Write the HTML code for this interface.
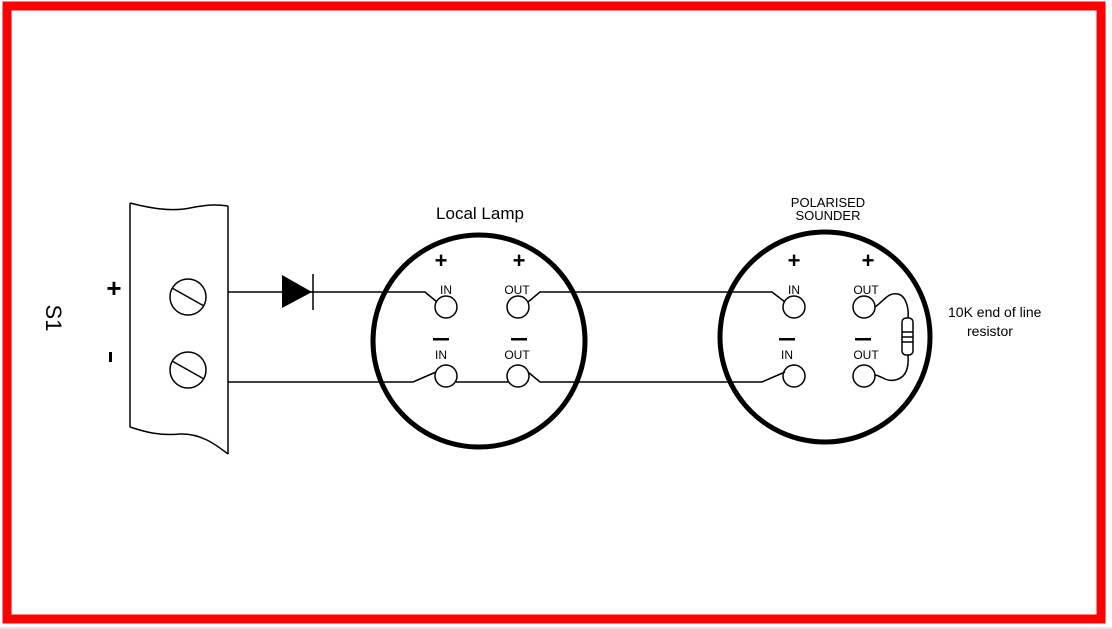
<!DOCTYPE html>
<html><head><style>
html,body{margin:0;padding:0;background:#fff;}
svg{display:block;}
text{font-family:"Liberation Sans",Arial,sans-serif;fill:#000;}
</style></head><body>
<svg width="1112" height="629" viewBox="0 0 1112 629" xmlns="http://www.w3.org/2000/svg">
<rect x="0" y="0" width="1112" height="629" fill="#fff"/>
<rect x="7" y="6" width="1094" height="613" fill="none" stroke="#ff0000" stroke-width="9"/>
<line x1="0" y1="628" x2="1112" y2="628" stroke="#ccc" stroke-width="1"/>

<!-- panel -->
<g fill="none" stroke="#000" stroke-width="1.5">
<path d="M130,203 C150,208 170,212 190,208 C205,205 215,204 228,206"/>
<line x1="130" y1="203" x2="130" y2="427"/>
<line x1="228" y1="206" x2="228" y2="454"/>
<path d="M130,427 C145,432 160,436 180,434 C200,433 215,444 228,454"/>
<circle cx="188" cy="297" r="18"/>
<line x1="172" y1="288" x2="204" y2="306"/>
<circle cx="188" cy="370" r="18"/>
<line x1="172" y1="361" x2="204" y2="379"/>
</g>
<text x="114" y="297" font-size="26" font-weight="bold" text-anchor="middle">+</text>
<rect x="109" y="352" width="3" height="10" fill="#000"/>
<text x="0" y="0" font-size="22" text-anchor="middle" transform="translate(46,318) rotate(90)">S1</text>

<!-- wires -->
<g fill="none" stroke="#000" stroke-width="1.5">
<polyline points="228,292 425,292 437,302"/>
<polyline points="228,382 413,382 436,372"/>
<line x1="456" y1="382" x2="508" y2="382"/>
<polyline points="528,302 540,292 772,292 785,302"/>
<polyline points="528,372 540,382 762,382 785,372"/>
<line x1="313" y1="274" x2="313" y2="310"/>
</g>
<polygon points="282,275 282,308 312,292" fill="#000"/>

<!-- Local Lamp -->
<circle cx="479" cy="341" r="106" fill="none" stroke="#000" stroke-width="5"/>
<text x="480" y="219" font-size="17" text-anchor="middle">Local Lamp</text>
<g fill="none" stroke="#000" stroke-width="1.5">
<circle cx="446" cy="307" r="11"/>
<circle cx="518" cy="307" r="11"/>
<circle cx="446" cy="376" r="11"/>
<circle cx="518" cy="376" r="11"/>
</g>
<g font-size="22" font-weight="bold" text-anchor="middle">
<text x="441" y="268">+</text><text x="519" y="268">+</text>
<text x="794" y="268">+</text><text x="868" y="268">+</text>
</g>
<g fill="#000">
<rect x="433" y="338" width="16" height="2.5"/><rect x="511" y="338" width="16" height="2.5"/>
<rect x="779" y="338" width="16" height="2.5"/><rect x="855" y="338" width="16" height="2.5"/>
</g>
<g font-size="12" text-anchor="middle">
<text x="446" y="294">IN</text><text x="517" y="294">OUT</text>
<text x="441" y="359">IN</text><text x="517" y="359">OUT</text>
<text x="794" y="294">IN</text><text x="866" y="294">OUT</text>
<text x="787" y="359">IN</text><text x="866" y="359">OUT</text>
</g>

<!-- Sounder -->
<circle cx="825" cy="337" r="105" fill="none" stroke="#000" stroke-width="5"/>
<text x="828" y="207" font-size="13" text-anchor="middle">POLARISED</text>
<text x="828" y="220" font-size="13" text-anchor="middle">SOUNDER</text>
<g fill="none" stroke="#000" stroke-width="1.5">
<circle cx="794" cy="307" r="11"/>
<circle cx="864" cy="307" r="11"/>
<circle cx="794" cy="376" r="11"/>
<circle cx="864" cy="376" r="11"/>
<path d="M875,307 C885,300 888,292 898,294 C906,296 909,308 908,318"/>
<path d="M908,355 C909,368 906,378 895,380 C886,382 882,376 875,375"/>
<rect x="902" y="318" width="11" height="37" rx="4"/>
<line x1="902" y1="332" x2="913" y2="332"/>
<line x1="902" y1="337" x2="913" y2="337"/>
<line x1="902" y1="342" x2="913" y2="342"/>
</g>
<text x="948" y="317" font-size="14">10K end of line</text>
<text x="967" y="336" font-size="14">resistor</text>
</svg>
</body></html>
